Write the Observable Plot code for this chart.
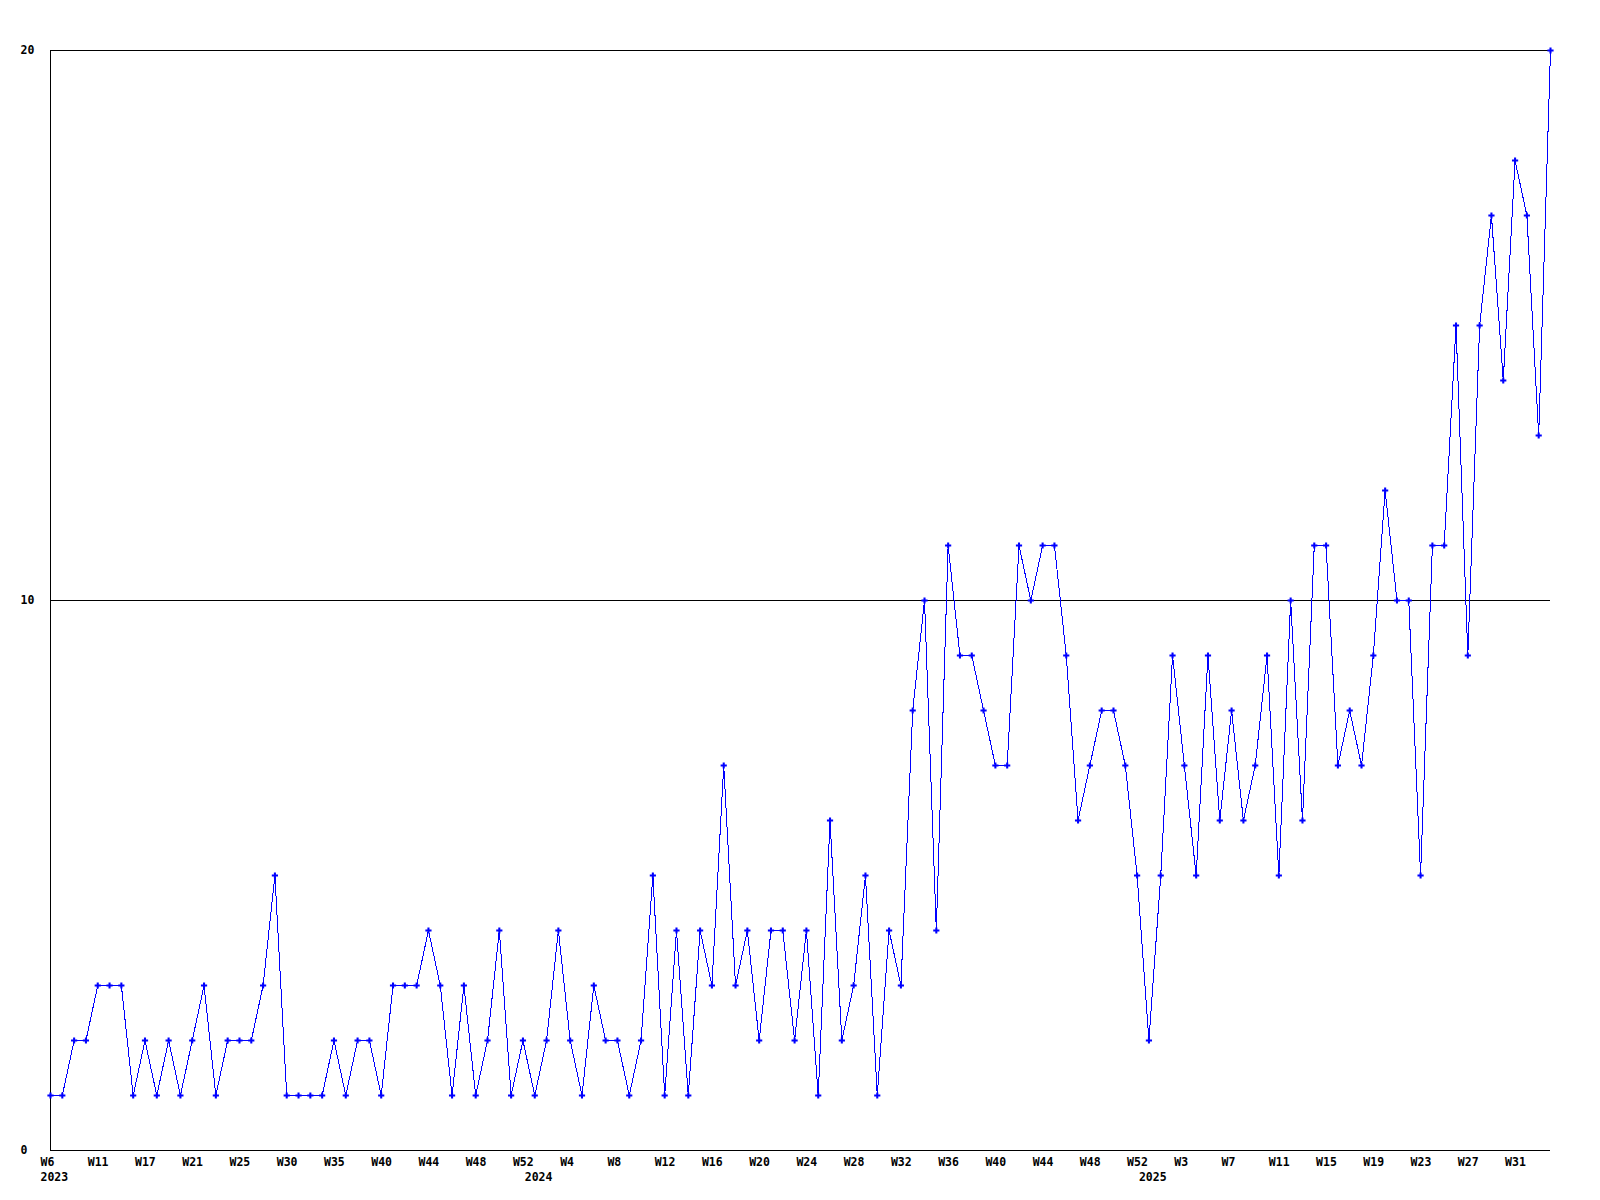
<!DOCTYPE html>
<html><head><meta charset="utf-8">
<script src="https://cdn.jsdelivr.net/npm/d3@7"></script>
<script src="https://cdn.jsdelivr.net/npm/@observablehq/plot@0.6"></script>
<style>
html,body{margin:0;padding:0;background:#fff;}
</style></head><body><div id="chart"></div>
<script>
const values = [
  1,1,2,2,3,3,3,1,2,1,2,1,2,3,1,2,2,2,3,5,1,1,1,1,2,1,2,2,1,3,3,3,4,3,
  1,3,1,2,4,1,2,1,2,4,2,1,3,2,2,1,2,5,1,4,1,4,3,7,3,4,2,4,4,2,4,1,6,2,3,5,1,4,3,
  8,10,4,11,9,9,8,7,7,11,10,11,11,9,6,7,8,8,7,5,2,5,9,7,5,9,6,8,6,7,9,5,
  10,6,11,11,7,8,7,9,12,10,10,5,11,11,15,9,15,17,14,18,17,13,20
];
const tickPos = [0,4,8,12,16,20,24,28,32,36,40,44,48,52,56,60,64,68,72,76,80,84,88,92,96,100,104,108,112,116,120,124];
const tickLabels = ["W6","W11","W17","W21","W25","W30","W35","W40","W44","W48","W52",
  "W4","W8","W12","W16","W20","W24","W28","W32","W36","W40","W44","W48","W52",
  "W3","W7","W11","W15","W19","W23","W27","W31"];
const yearPos = [0,41,93];
const yearLabels = ["2023","2024","2025"];
const yTicks = [0,10,20];

const points = values.map((v,i)=>({i, v}));
const years = yearLabels.map((t,k)=>({t, x: yearPos[k], y: 0}));
const font = "'DejaVu Sans Mono', monospace";

const chart = Plot.plot({
  width:1600, height:1200,
  marginLeft:50, marginRight:50, marginTop:50, marginBottom:50,
  style:{fontFamily:font, fontSize:"11.5px", fontWeight:"bold", background:"#fff", color:"#000", overflow:"visible"},
  x:{domain:[0, values.length-1]},
  y:{domain:[0,20]},
  marks:[
    Plot.ruleY([10,20], {stroke:"#000", strokeWidth:1}),
    Plot.ruleY([0], {stroke:"#000", strokeWidth:1}),
    Plot.ruleX([0], {stroke:"#000", strokeWidth:1}),
    Plot.line(points, {x:"i", y:"v", stroke:"#0000ff", strokeWidth:1, shapeRendering:"crispEdges"}),
    Plot.dot(points, {x:"i", y:"v", symbol:"cross", fill:"#0000ff", stroke:"none", r:2.6}),
    Plot.axisX({ticks: tickPos, tickFormat: d => tickLabels[tickPos.indexOf(d)], tickSize:0, tickPadding:7, textAnchor:"start", dx:-10, label:null, fill:"#000"}),
    Plot.axisY({ticks: yTicks, tickSize:0, tickPadding:30, textAnchor:"start", label:null, fill:"#000"}),
    Plot.text(years, {x:"x", y:"y", text:"t", dy:27, dx:-10, textAnchor:"start", lineAnchor:"middle", fill:"#000"})
  ]
});
document.getElementById("chart").appendChild(chart);
</script>
</body></html>
